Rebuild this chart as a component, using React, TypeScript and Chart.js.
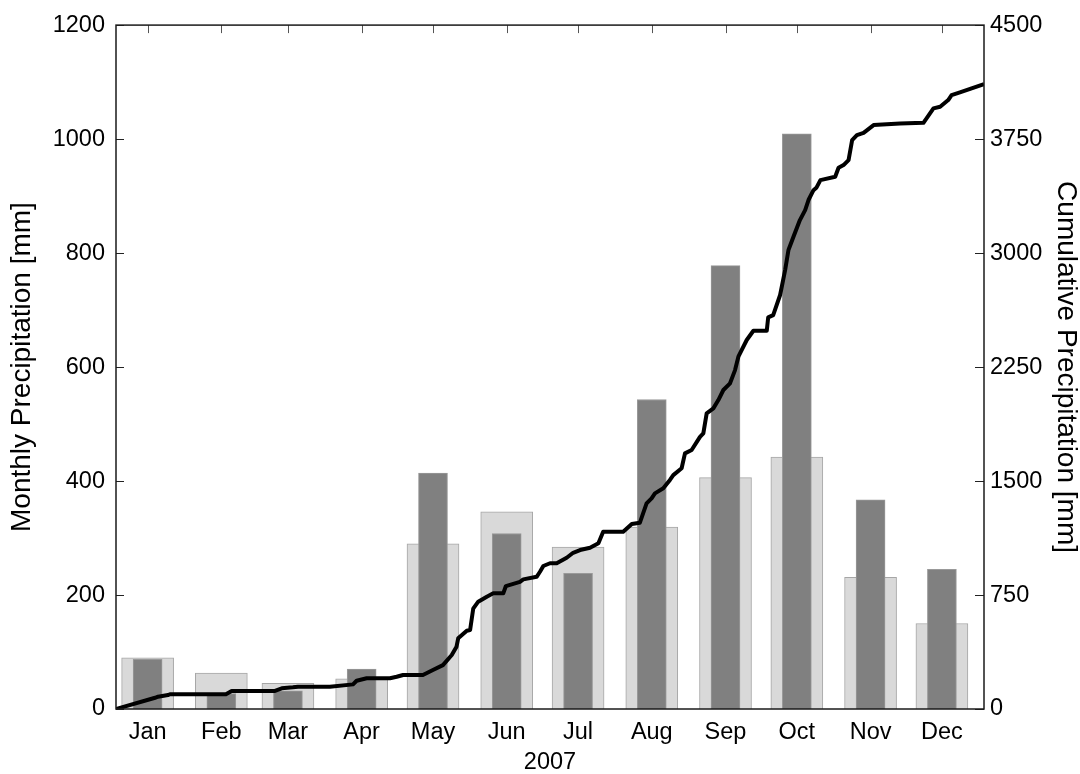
import React, { useEffect, useRef } from "react";
import { Chart, registerables } from "chart.js";

Chart.register(...registerables);

// ---- data ----
const monthLabels = ["Jan", "Feb", "Mar", "Apr", "May", "Jun", "Jul", "Aug", "Sep", "Oct", "Nov", "Dec"];
const monthStartDay = [1, 32, 60, 91, 121, 152, 182, 213, 244, 274, 305, 335];
const normalMonthly = [90, 63, 45, 53, 290, 346, 284, 319, 406, 442, 231, 150];
const monthly2007 = [87, 27, 32, 70, 414, 308, 238, 543, 778, 1009, 367, 245];

const cumDay = [
  1, 17.4, 18.6, 22.8, 23.6, 47.1, 49.5, 67.4, 70.5, 75.2, 77.3, 90.7, 100.4, 101.9, 106.1,
  115.9, 118.7, 121.4, 129.7, 133.9, 138.1, 141.8, 143.8, 144.5, 148.1, 149.5, 150.8, 152.9,
  156.5, 159.2, 163.4, 164.5, 166.9, 170.4, 171.8, 177.4, 178.8, 180.2, 183.0, 185.8, 190.0,
  192.7, 195.6, 199.8, 203.3, 205.3, 213.7, 217.3, 220.7, 223.5, 225.6, 227.0, 230.5, 233.3,
  234.7, 238.2, 239.6, 242.4, 245.9, 247.3, 248.7, 251.5, 253.6, 255.7, 258.5, 260.6, 262.0,
  265.5, 268.3, 273.9, 274.5, 276.6, 279.5, 281.6, 283.0, 285.1, 287.8, 290.0, 291.4, 293.5,
  294.8, 296.4, 302.6, 304.0, 306.1, 308.2, 309.7, 311.7, 314.5, 318.7, 329.8, 339.6, 343.8,
  346.6, 350.0, 351.4, 354.9, 365,
];
const cumValue = [
  0, 74, 81, 92, 97, 97, 118, 118, 136, 143, 147, 147, 162, 186, 202,
  202, 212, 224, 224, 257, 289, 355, 410, 465, 515, 520, 660, 706,
  739, 761, 761, 809, 820, 837, 853, 870, 903, 941, 959, 959, 995,
  1028, 1046, 1061, 1090, 1166, 1166, 1217, 1226, 1353, 1386, 1419, 1452, 1507,
  1539, 1584, 1682, 1704, 1791, 1814, 1945, 1978, 2033, 2099, 2143, 2230, 2318,
  2428, 2489, 2489, 2577, 2592, 2724, 2888, 3020, 3107, 3217, 3283, 3349, 3414,
  3432, 3480, 3502, 3561, 3579, 3612, 3743, 3776, 3791, 3842, 3853, 3857, 3952,
  3963, 4007, 4039, 4057, 4112,
];

const leftTicks = [0, 200, 400, 600, 800, 1000, 1200];
const rightTicks = [0, 750, 1500, 2250, 3000, 3750, 4500];

const FONT = "'Liberation Sans', Arial, Helvetica, sans-serif";

const axesDecor = {
  id: "axesDecor",
  beforeDatasetsDraw(chart: any) {
    const { ctx, chartArea, scales } = chart;
    const { left, right, top, bottom } = chartArea;
    ctx.save();
    ctx.lineWidth = 1;
    ctx.strokeStyle = "#222";
    const seg = (x1: number, y1: number, x2: number, y2: number) => {
      ctx.beginPath();
      ctx.moveTo(x1, y1);
      ctx.lineTo(x2, y2);
      ctx.stroke();
    };
    leftTicks.forEach((v) => {
      const y = Math.round(scales.y.getPixelForValue(v)) + 0.5;
      seg(left, y, left + 8, y);
    });
    rightTicks.forEach((v) => {
      const y = Math.round(scales.y2.getPixelForValue(v)) + 0.5;
      seg(right - 9, y, right, y);
    });
    ctx.strokeStyle = "#555";
    monthStartDay.forEach((d) => {
      const x = Math.round(scales.x.getPixelForValue(d)) + 0.5;
      seg(x, top, x, top + 8);
      seg(x, bottom, x, bottom - 8);
    });
    ctx.restore();
  },
  afterDatasetsDraw(chart: any) {
    const { ctx, chartArea } = chart;
    const { left, right, top, bottom } = chartArea;
    ctx.save();
    ctx.lineWidth = 1.5;
    ctx.strokeStyle = "#1a1a1a";
    ctx.strokeRect(left, top, right - left, bottom - top);
    ctx.restore();
  },
};

export default function App() {
  const canvasRef = useRef<HTMLCanvasElement>(null);

  useEffect(() => {
    if (!canvasRef.current) return;
    Chart.defaults.font.family = FONT;
    Chart.defaults.color = "#000";

    const chart = new Chart(canvasRef.current, {
      type: "bar",
      data: {
        datasets: [
          {
            type: "line",
            data: cumDay.map((d, i) => ({ x: d, y: cumValue[i] })),
            xAxisID: "x2",
            yAxisID: "y2",
            borderColor: "#000",
            borderWidth: 4,
            pointRadius: 0,
            tension: 0,
            borderJoinStyle: "round",
            order: 0,
          } as any,
          {
            type: "bar",
            data: monthStartDay.map((d, i) => ({ x: d, y: monthly2007[i] })),
            xAxisID: "x",
            yAxisID: "y",
            backgroundColor: "#808080",
            borderColor: "#999999",
            borderWidth: 1,
            barThickness: 29,
            grouped: false,
            order: 1,
          } as any,
          {
            type: "bar",
            data: monthStartDay.map((d, i) => ({ x: d, y: normalMonthly[i] })),
            xAxisID: "x",
            yAxisID: "y",
            backgroundColor: "#d9d9d9",
            borderColor: "#a6a6a6",
            borderWidth: 1,
            barThickness: 52,
            grouped: false,
            order: 2,
          } as any,
        ],
      },
      options: {
        responsive: false,
        animation: false,
        events: [],
        layout: { padding: { top: 25, left: 0, right: 0, bottom: 0 } },
        plugins: {
          legend: { display: false },
          tooltip: { enabled: false },
        },
        scales: {
          x: {
            type: "linear",
            position: "bottom",
            offset: false,
            min: -12.3,
            max: 352.7,
            grid: { display: false, drawTicks: false, offset: false },
            border: { display: false },
            afterBuildTicks: (axis: any) => {
              axis.ticks = monthStartDay.map((v) => ({ value: v }));
            },
            afterFit: (s: any) => {
              s.height = 65;
            },
            ticks: {
              autoSkip: false,
              maxRotation: 0,
              padding: 9,
              font: { size: 23.5 },
              color: "#000",
              callback: (_v: any, i: number) => monthLabels[i],
            },
            title: {
              display: true,
              text: "2007",
              font: { size: 23.5, lineHeight: 1 },
              color: "#000",
              padding: { top: 0, bottom: 0 },
            },
          },
          x2: {
            type: "linear",
            display: false,
            offset: false,
            min: 1,
            max: 365,
          },
          y: {
            type: "linear",
            position: "left",
            min: 0,
            max: 1200,
            grid: { display: false, drawTicks: false },
            border: { display: false },
            afterFit: (s: any) => {
              s.width = 116;
            },
            ticks: {
              stepSize: 200,
              padding: 11,
              font: { size: 23.5 },
              color: "#000",
              callback: (v: any) => String(v),
            },
            title: {
              display: true,
              text: "Monthly Precipitation [mm]",
              font: { size: 28, lineHeight: 1 },
              color: "#000",
              padding: { top: 8, bottom: 0 },
            },
          },
          y2: {
            type: "linear",
            position: "right",
            min: 0,
            max: 4500,
            grid: { display: false, drawTicks: false },
            border: { display: false },
            afterFit: (s: any) => {
              s.width = 96;
            },
            ticks: {
              stepSize: 750,
              padding: 6,
              font: { size: 23.5 },
              color: "#000",
              callback: (v: any) => String(v),
            },
            title: {
              display: true,
              text: "Cumulative Precipitation [mm]",
              font: { size: 28, lineHeight: 1 },
              color: "#000",
              padding: { top: 0, bottom: 0 },
            },
          },
        },
      } as any,
      plugins: [axesDecor],
    });

    return () => chart.destroy();
  }, []);

  return (
    <div style={{ position: "fixed", left: 0, top: 0, width: 1080, height: 774, background: "#fff" }}>
      <canvas ref={canvasRef} width={1080} height={774} style={{ width: 1080, height: 774, display: "block" }} />
    </div>
  );
}
